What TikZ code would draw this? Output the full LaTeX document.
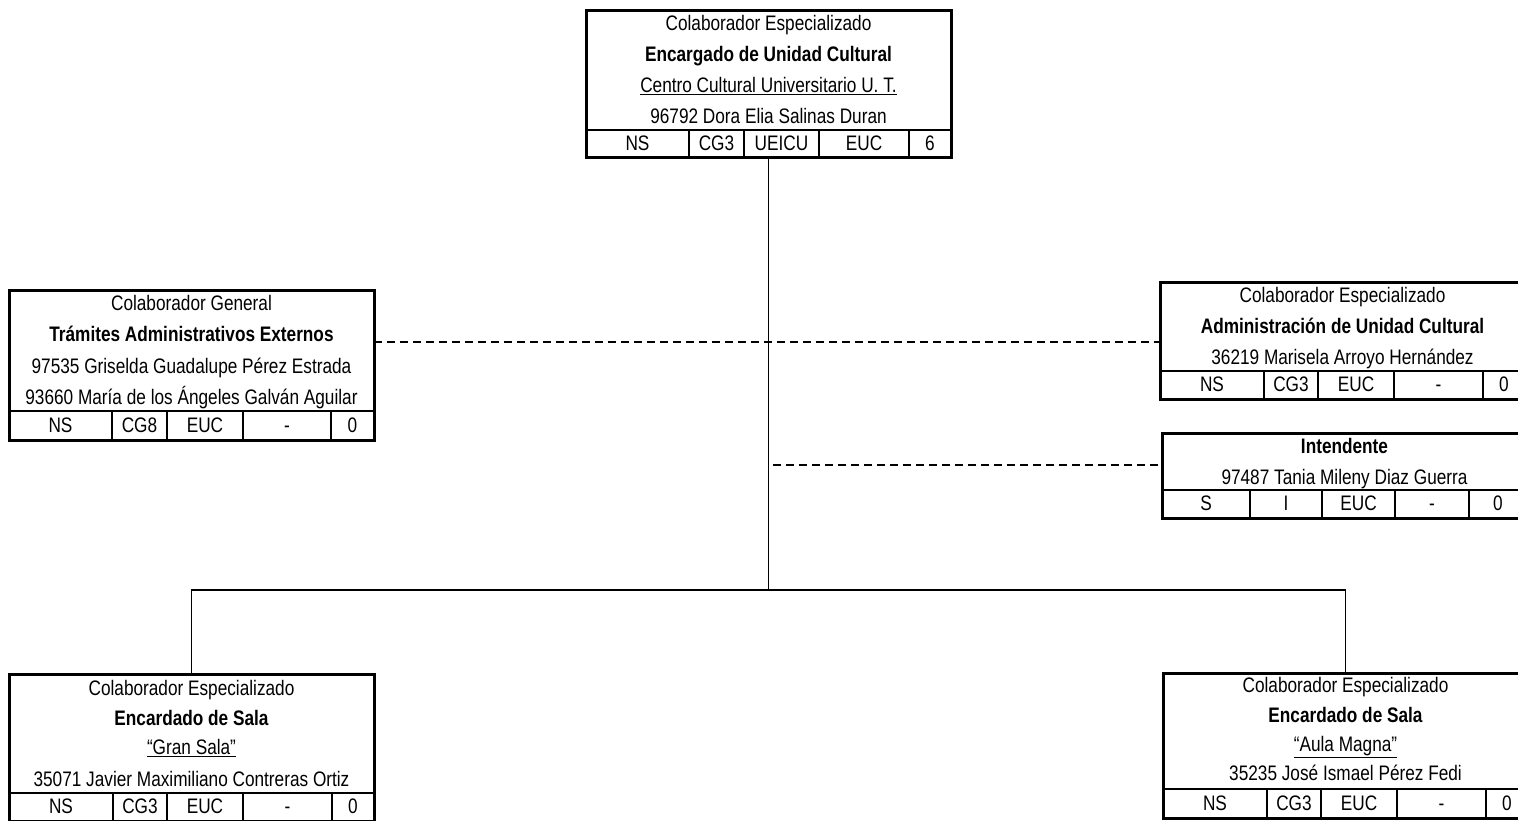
\documentclass[tikz,border=0pt]{standalone}
\usepackage{fontspec}
\setmainfont{Liberation Sans}[FakeStretch=0.82]
\tikzset{
  obox/.style={draw, line width=3pt, inner sep=0pt, outer sep=0pt},
  div/.style={line width=2.2pt},
  txt/.style={inner sep=0pt, font=\fontsize{21}{25}\selectfont, text height=13pt, text depth=0pt},
  hd/.style={txt, font=\fontsize{21}{25}\selectfont\bfseries},
  conn/.style={line width=1.7pt},
  dashconn/.style={line width=1.7pt, dash pattern=on 8pt off 5pt},
}
\newcommand\orgbox[6]{%
  \node[obox, anchor=north west, minimum width=365pt, minimum height={(#4)-(#3)}] (#1) at (#2,#3) {};
  \draw[div] (#1.west |- 0,#5) -- (#1.east |- 0,#5);
  \foreach \d in {#6} {\draw[div] (\d,#5) -- (\d,#4);}
}
\newcommand\orgcells[3]{%
  \foreach \cx/\ct [count=\i] in {#3} {\node[txt] (#1-c\i) at (\cx,#2) {\ct};}
}
\begin{document}
\begin{tikzpicture}[x=1pt,y=-1pt]
\fill[white] (0,0) rectangle (1518,820);
\useasboundingbox (0,0) rectangle (1518,820);

% top box
\orgbox{top}{586}{10}{157}{130}{689,744,819,909}
\node[txt] (top-1) at (768.5,24) {Colaborador Especializado};
\node[hd]  (top-2) at (768.5,55) {Encargado de Unidad Cultural};
\node[txt] (top-3) at (768.5,86) {\underline{Centro Cultural Universitario U. T.}};
\node[txt] (top-4) at (768.5,117) {96792 Dora Elia Salinas Duran};
\orgcells{top}{144}{637.5/NS,716.5/CG3,781.5/UEICU,864/EUC,930/6}

% left box
\orgbox{ga}{9}{290}{440}{411}{112,167,243,331}
\node[txt] (ga-1) at (191.5,304) {Colaborador General};
\node[hd]  (ga-2) at (191.5,335) {Trámites Administrativos Externos};
\node[txt] (ga-3) at (191.5,367) {97535 Griselda Guadalupe Pérez Estrada};
\node[txt] (ga-4) at (191.5,398) {93660 María de los Ángeles Galván Aguilar};
\orgcells{ga}{426}{60.5/NS,139.5/CG8,205/EUC,287/-,352.5/0}

% admin box
\orgbox{adm}{1160}{282}{399}{371}{1264,1318,1394,1483}
\node[txt] (adm-1) at (1342.5,296) {Colaborador Especializado};
\node[hd]  (adm-2) at (1342.5,327) {Administración de Unidad Cultural};
\node[txt] (adm-3) at (1342.5,358) {36219 Marisela Arroyo Hernández};
\orgcells{adm}{385}{1212/NS,1291/CG3,1356/EUC,1438.5/-,1504/0}

% intendente box
\orgbox{int}{1162}{433}{518}{490}{1250,1322,1395,1469}
\node[hd]  (int-1) at (1344.5,447) {Intendente};
\node[txt] (int-2) at (1344.5,478) {97487 Tania Mileny Diaz Guerra};
\orgcells{int}{504}{1206/S,1286/I,1358.5/EUC,1432/-,1498/0}

% bottom left box
\orgbox{bl}{9}{674}{821}{793}{113,167,243,332}
\node[txt] (bl-1) at (191.5,689) {Colaborador Especializado};
\node[hd]  (bl-2) at (191.5,719) {Encardado de Sala};
\node[txt] (bl-3) at (191.5,748) {\underline{“Gran Sala”}};
\node[txt] (bl-4) at (191.5,780) {35071 Javier Maximiliano Contreras Ortiz};
\orgcells{bl}{807}{61/NS,140/CG3,205/EUC,287.5/-,353/0}

% bottom right box
\orgbox{br}{1163}{673}{818}{789}{1267,1321,1397,1486}
\node[txt] (br-1) at (1345.5,686) {Colaborador Especializado};
\node[hd]  (br-2) at (1345.5,716) {Encardado de Sala};
\node[txt] (br-3) at (1345.5,745) {\underline{“Aula Magna”}};
\node[txt] (br-4) at (1345.5,774) {35235 José Ismael Pérez Fedi};
\orgcells{br}{804}{1215/NS,1294/CG3,1359/EUC,1441.5/-,1507/0}

% connectors
\coordinate (j) at (768.5,590);
\draw[conn] (top.south) -- (j);
\draw[conn] (bl.north) |- (j) -| (br.north);
\coordinate (d1) at (0,342);
\draw[dashconn] (ga.east |- d1) -- (adm.west |- d1);
\coordinate (d2) at (773,465);
\draw[dashconn] (d2) -- (int.west |- d2);
\end{tikzpicture}
\end{document}
